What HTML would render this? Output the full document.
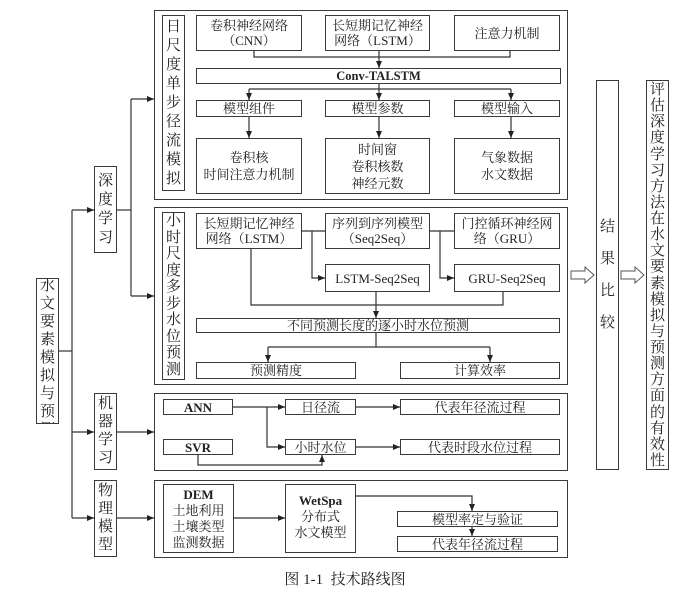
<!DOCTYPE html>
<html><head><meta charset="utf-8"><style>
html,body{margin:0;padding:0;background:#fff}
#c{position:relative;width:699px;height:600px;overflow:hidden;font-family:"Liberation Serif","Noto Serif CJK SC","Noto Sans CJK SC",serif;color:#222}
.b{position:absolute;border:1.5px solid #3a3a3a;box-sizing:border-box;display:flex;align-items:center;justify-content:center;text-align:center;font-size:13px;line-height:15px;background:transparent}
.p{position:absolute;border:1.5px solid #3a3a3a;box-sizing:border-box}
.v{position:absolute;border:1.5px solid #3a3a3a;box-sizing:border-box;display:flex;flex-direction:column;align-items:center;justify-content:center;font-size:15px;overflow:hidden}
.v i{font-style:normal;display:block;width:20px;text-align:center;overflow:visible;line-height:15px}
svg{position:absolute;left:0;top:0}
</style></head><body><div id="c">
<svg width="699" height="600">
<defs><marker id="a" markerWidth="8" markerHeight="8" refX="7" refY="4" orient="auto" markerUnits="userSpaceOnUse"><path d="M0,1 L7,4 L0,7 z" fill="#222"/></marker></defs>
<g stroke="#333" stroke-width="1.2" fill="none">
<path d="M58,351 H72"/><path d="M72,210 V518"/>
<path d="M72,210 H94" marker-end="url(#a)"/>
<path d="M72,432 H94" marker-end="url(#a)"/>
<path d="M72,518 H94" marker-end="url(#a)"/>
<path d="M117,210 H131"/><path d="M131,99 V296"/>
<path d="M131,99 H154" marker-end="url(#a)"/>
<path d="M131,296 H154" marker-end="url(#a)"/>
<path d="M117,432 H154" marker-end="url(#a)"/>
<path d="M117,518 H154" marker-end="url(#a)"/>
<path d="M254,50 V57 H379"/><path d="M510,50 V57 H379"/>
<path d="M379,50 V68" marker-end="url(#a)"/>
<path d="M379,83 V89"/><path d="M249,89 H511"/>
<path d="M249,89 V100" marker-end="url(#a)"/>
<path d="M379,89 V100" marker-end="url(#a)"/>
<path d="M511,89 V100" marker-end="url(#a)"/>
<path d="M249,116 V138" marker-end="url(#a)"/>
<path d="M379,116 V138" marker-end="url(#a)"/>
<path d="M511,116 V138" marker-end="url(#a)"/>
<path d="M302,231 H325"/><path d="M312,231 V278 H325" marker-end="url(#a)"/>
<path d="M430,231 H454"/><path d="M440,231 V278 H454" marker-end="url(#a)"/>
<path d="M251,249 V305 H503 V291"/>
<path d="M376,291 V318" marker-end="url(#a)"/>
<path d="M376,332 V347"/><path d="M268,347 H490"/>
<path d="M268,347 V362" marker-end="url(#a)"/>
<path d="M490,347 V362" marker-end="url(#a)"/>
<path d="M233,407 H285" marker-end="url(#a)"/>
<path d="M267,407 V447 H285" marker-end="url(#a)"/>
<path d="M356,407 H400" marker-end="url(#a)"/>
<path d="M356,447 H400" marker-end="url(#a)"/>
<path d="M198,455 V465 H322 V455" marker-end="url(#a)"/>
<path d="M234,518 H285" marker-end="url(#a)"/>
<path d="M356,496 H472 V511" marker-end="url(#a)"/>
<path d="M472,526 V536" marker-end="url(#a)"/>
</g>
<path d="M571,271 H585 V267 L594,275 L585,283 V279 H571 Z" fill="#fff" stroke="#555" stroke-width="1"/>
<path d="M621,271 H635 V267 L644,275 L635,283 V279 H621 Z" fill="#fff" stroke="#555" stroke-width="1"/>
</svg>

<div class="v" style="left:36px;top:278px;width:23px;height:146px"><i style="height:18px">水</i><i style="height:18px">文</i><i style="height:18px">要</i><i style="height:18px">素</i><i style="height:18px">模</i><i style="height:18px">拟</i><i style="height:18px">与</i><i style="height:18px">预</i><i style="height:0">测</i></div>
<div class="v" style="left:94px;top:166px;width:23px;height:87px"><i style="height:19px">深</i><i style="height:19px">度</i><i style="height:19px">学</i><i style="height:15px">习</i></div>
<div class="v" style="left:94px;top:393px;width:23px;height:77px"><i style="height:18px">机</i><i style="height:18px">器</i><i style="height:18px">学</i><i style="height:15px">习</i></div>
<div class="v" style="left:94px;top:480px;width:23px;height:77px"><i style="height:18px">物</i><i style="height:18px">理</i><i style="height:18px">模</i><i style="height:15px">型</i></div>

<div class="p" style="left:154px;top:10px;width:414px;height:190px"></div>
<div class="v" style="left:162px;top:15px;width:23px;height:176px"><i style="height:19px">日</i><i style="height:19px">尺</i><i style="height:19px">度</i><i style="height:19px">单</i><i style="height:19px">步</i><i style="height:19px">径</i><i style="height:19px">流</i><i style="height:19px">模</i><i style="height:15px">拟</i></div>
<div class="b" style="left:196px;top:15px;width:106px;height:36px">卷积神经网络<br>（CNN）</div>
<div class="b" style="left:325px;top:15px;width:105px;height:36px">长短期记忆神经<br>网络（LSTM）</div>
<div class="b" style="left:454px;top:15px;width:106px;height:36px">注意力机制</div>
<div class="b" style="left:196px;top:68px;width:365px;height:16px;font-weight:bold;font-size:12.5px">Conv-TALSTM</div>
<div class="b" style="left:196px;top:100px;width:106px;height:17px">模型组件</div>
<div class="b" style="left:325px;top:100px;width:105px;height:17px">模型参数</div>
<div class="b" style="left:454px;top:100px;width:106px;height:17px">模型输入</div>
<div class="b" style="left:196px;top:138px;width:106px;height:56px;line-height:17px">卷积核<br>时间注意力机制</div>
<div class="b" style="left:325px;top:138px;width:105px;height:56px;line-height:17px">时间窗<br>卷积核数<br>神经元数</div>
<div class="b" style="left:454px;top:138px;width:106px;height:56px;line-height:17px">气象数据<br>水文数据</div>

<div class="p" style="left:154px;top:207px;width:414px;height:178px"></div>
<div class="v" style="left:162px;top:212px;width:23px;height:168px"><i style="height:16.5px">小</i><i style="height:16.5px">时</i><i style="height:16.5px">尺</i><i style="height:16.5px">度</i><i style="height:16.5px">多</i><i style="height:16.5px">步</i><i style="height:16.5px">水</i><i style="height:16.5px">位</i><i style="height:16.5px">预</i><i style="height:15px">测</i></div>
<div class="b" style="left:196px;top:213px;width:106px;height:36px">长短期记忆神经<br>网络（LSTM）</div>
<div class="b" style="left:325px;top:213px;width:105px;height:36px">序列到序列模型<br>（Seq2Seq）</div>
<div class="b" style="left:454px;top:213px;width:106px;height:36px">门控循环神经网<br>络（GRU）</div>
<div class="b" style="left:325px;top:264px;width:105px;height:28px">LSTM-Seq2Seq</div>
<div class="b" style="left:454px;top:264px;width:106px;height:28px">GRU-Seq2Seq</div>
<div class="b" style="left:196px;top:318px;width:364px;height:15px">不同预测长度的逐小时水位预测</div>
<div class="b" style="left:196px;top:362px;width:160px;height:17px">预测精度</div>
<div class="b" style="left:400px;top:362px;width:160px;height:17px">计算效率</div>

<div class="p" style="left:154px;top:393px;width:414px;height:78px"></div>
<div class="b" style="left:163px;top:399px;width:70px;height:16px;font-weight:bold">ANN</div>
<div class="b" style="left:285px;top:399px;width:71px;height:16px">日径流</div>
<div class="b" style="left:400px;top:399px;width:160px;height:16px">代表年径流过程</div>
<div class="b" style="left:163px;top:439px;width:70px;height:16px;font-weight:bold">SVR</div>
<div class="b" style="left:285px;top:439px;width:71px;height:16px">小时水位</div>
<div class="b" style="left:400px;top:439px;width:160px;height:16px">代表时段水位过程</div>

<div class="p" style="left:154px;top:480px;width:414px;height:78px"></div>
<div class="b" style="left:163px;top:484px;width:71px;height:69px;line-height:16px"><span><b>DEM</b><br>土地利用<br>土壤类型<br>监测数据</span></div>
<div class="b" style="left:285px;top:484px;width:71px;height:69px;line-height:16px;align-items:flex-start;padding-top:8px"><span><b>WetSpa</b><br>分布式<br>水文模型</span></div>
<div class="b" style="left:397px;top:511px;width:161px;height:16px">模型率定与验证</div>
<div class="b" style="left:397px;top:536px;width:161px;height:16px">代表年径流过程</div>

<div class="v" style="left:596px;top:80px;width:23px;height:390px"><i style="height:32px">结</i><i style="height:32px">果</i><i style="height:32px">比</i><i style="height:15px">较</i></div>
<div class="v" style="left:646px;top:80px;width:23px;height:390px;justify-content:flex-start;padding-top:2px">
<i style="height:19.4px">评</i><i style="height:19.4px">估</i><i style="height:19.4px">深</i><i style="height:19.4px">度</i><i style="height:19.4px">学</i><i style="height:19.4px">习</i><i style="height:19.4px">方</i><i style="height:19.4px">法</i><i style="height:19.4px">在</i><i style="height:19.4px">水</i><i style="height:19.4px">文</i><i style="height:19.4px">要</i><i style="height:19.4px">素</i><i style="height:19.4px">模</i><i style="height:19.4px">拟</i><i style="height:19.4px">与</i><i style="height:19.4px">预</i><i style="height:19.4px">测</i><i style="height:19.4px">方</i><i style="height:19.4px">面</i><i style="height:19.4px">的</i><i style="height:19.4px">有</i><i style="height:19.4px">效</i><i style="height:15px">性</i></div>

<div style="position:absolute;left:0;width:690px;top:568px;text-align:center;font-size:15px">图 1-1&nbsp; 技术路线图</div>
</div></body></html>
